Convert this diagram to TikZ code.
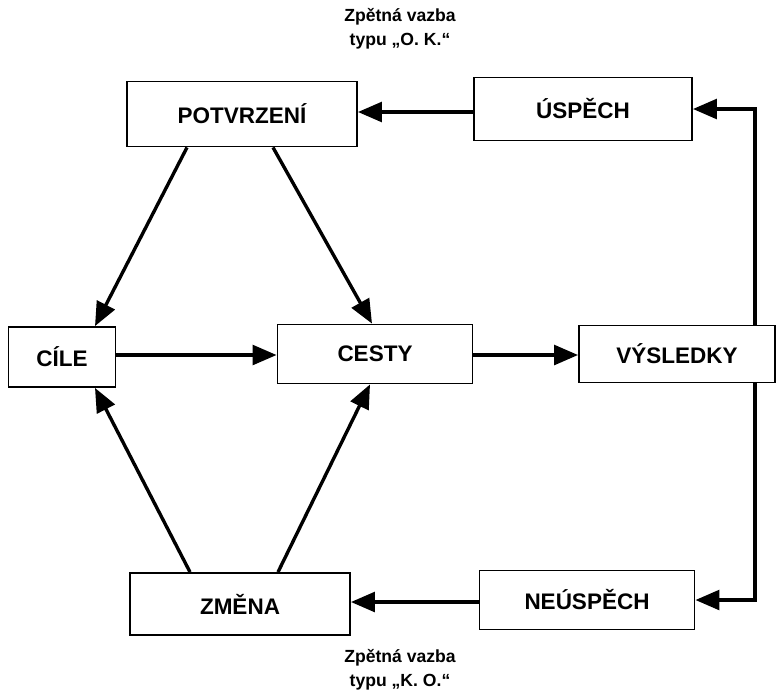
\documentclass[tikz,border=0pt]{standalone}
\usepackage{fontspec}
\setmainfont{Liberation Sans}
\usetikzlibrary{arrows.meta,positioning,calc}

\begin{document}
\begin{tikzpicture}[x=0.025cm,y=-0.025cm,
  box/.style={rectangle, draw, line width=1.3pt, font=\fontsize{16}{19}\selectfont\bfseries},
  sip/.style={-{Triangle[length=17pt,width=14pt]}, line width=2.4pt},
  pozn/.style={align=center, font=\fontsize{12.5}{17}\selectfont\bfseries}]
\useasboundingbox (0,0) rectangle (780,693);

\node[box, minimum width=5.75cm, minimum height=1.625cm] (potvrzeni) at (242,114) {POTVRZENÍ};
\node[box, minimum width=5.45cm, minimum height=1.575cm] (uspech) at (583,109) {ÚSPĚCH};
\node[box, minimum width=2.675cm, minimum height=1.5cm] (cile) at (62,357) {CÍLE};
\node[box, minimum width=4.875cm, minimum height=1.475cm] (cesty) at (375,354) {CESTY};
\node[box, minimum width=4.9cm, minimum height=1.425cm] (vysledky) at (677,354) {VÝSLEDKY};
\node[box, minimum width=5.5cm, minimum height=1.55cm] (zmena) at (240,604) {ZMĚNA};
\node[box, minimum width=5.375cm, minimum height=1.475cm] (neuspech) at (587,600) {NEÚSPĚCH};

\node[pozn] (okpozn) at (400,29) {Zpětná vazba\\typu „O.~K.“};
\node[pozn] (kopozn) at (400,670) {Zpětná vazba\\typu „K.~O.“};

% horni smycka
\draw[sip] (uspech.west |- 0,112) -- (potvrzeni.east |- 0,112);
\draw[sip] ($(potvrzeni.south)+(-55,0)$) -- ($(cile.north)+(33,0)$);
\draw[sip] ($(potvrzeni.south)+(31,0)$) -- ($(cesty.north)+(-3,0)$);

% stred
\draw[sip] (cile.east |- 0,355) -- (cesty.west |- 0,355);
\draw[sip] (cesty.east |- 0,355) -- (vysledky.west |- 0,355);

% dolni smycka
\draw[sip] ($(zmena.north)+(-50,0)$) -- ($(cile.south)+(33,0)$);
\draw[sip] ($(zmena.north)+(38,0)$) -- ($(cesty.south)+(-5,0)$);
\draw[sip] (neuspech.west |- 0,602) -- (zmena.east |- 0,602);

% zpetne vazby
\draw[sip] ($(vysledky.north)+(78,0)$) |- (uspech.east);
\draw[sip] ($(vysledky.south)+(78,0)$) |- (neuspech.east);
\end{tikzpicture}
\end{document}
